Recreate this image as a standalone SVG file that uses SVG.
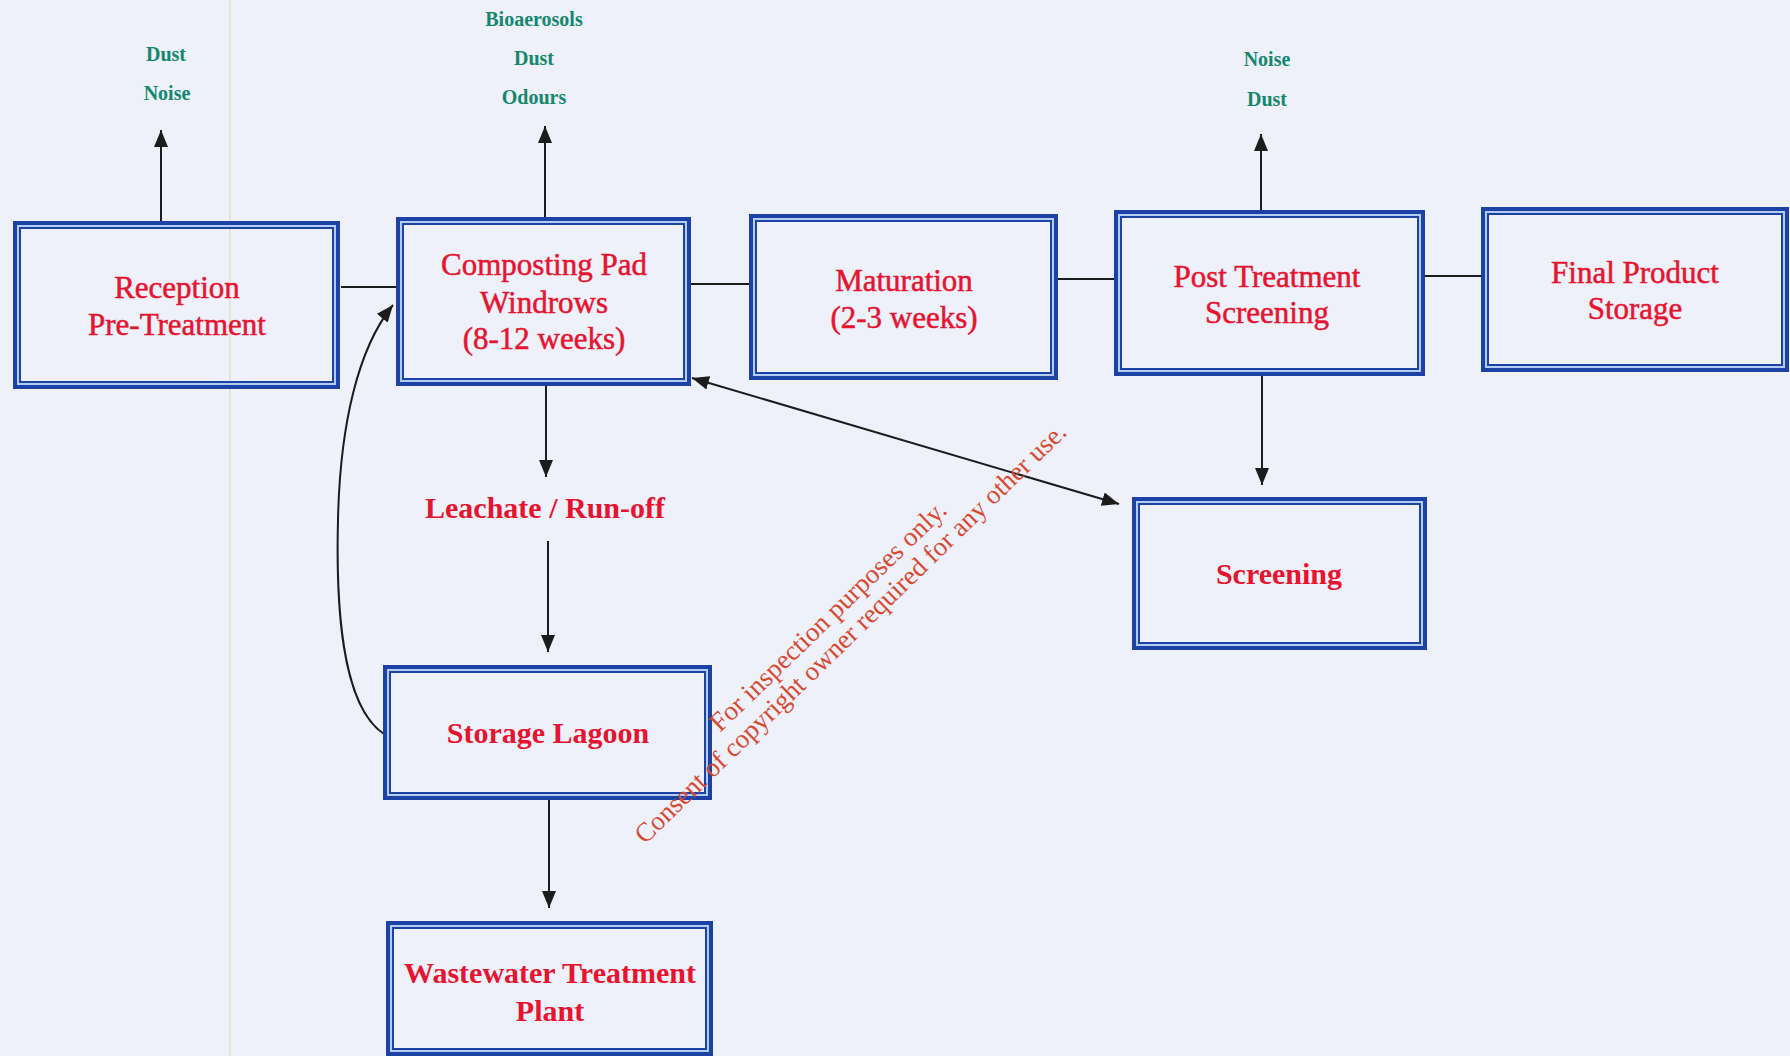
<svg xmlns="http://www.w3.org/2000/svg" width="1790" height="1056" viewBox="0 0 1790 1056">
<defs>
<style>
.bo{fill:none;stroke:#1d42a6;stroke-width:8}
.bi{fill:none;stroke:#b3ccf4;stroke-width:2}
.lbl{font-family:"Liberation Serif","Times New Roman",serif;font-size:31px;fill:#e5142f;stroke:#e5142f;stroke-width:0.5;text-anchor:middle}
.lbb{font-family:"Liberation Serif","Times New Roman",serif;font-size:30px;font-weight:bold;fill:#e5142f;text-anchor:middle}
.em{font-family:"Liberation Serif","Times New Roman",serif;font-size:20px;font-weight:bold;fill:#15876c;text-anchor:middle}
.wm{font-family:"Liberation Serif","Times New Roman",serif;font-size:27px;fill:#d84a30}
.ln{fill:none;stroke:#1c1c1c;stroke-width:2}
</style>
<marker id="ah" markerUnits="userSpaceOnUse" markerWidth="18" markerHeight="14" refX="17" refY="7" orient="auto">
<path d="M0,0 L17,7 L0,14 z" fill="#1c1c1c"/>
</marker>
<marker id="ahs" markerUnits="userSpaceOnUse" markerWidth="18" markerHeight="14" refX="1" refY="7" orient="auto">
<path d="M18,0 L1,7 L18,14 z" fill="#1c1c1c"/>
</marker>
</defs>
<rect x="0" y="0" width="1790" height="1056" fill="#eef0fa"/>
<line x1="230" y1="0" x2="230" y2="1056" stroke="#e7e1c4" stroke-width="1.5"/>

<g id="connectors">
<line class="ln" x1="341" y1="287" x2="396" y2="287"/>
<line class="ln" x1="691" y1="284" x2="749" y2="284"/>
<line class="ln" x1="1058" y1="279" x2="1114" y2="279"/>
<line class="ln" x1="1425" y1="276" x2="1481" y2="276"/>
<line class="ln" x1="161" y1="221" x2="161" y2="130" marker-end="url(#ah)"/>
<line class="ln" x1="545" y1="217" x2="545" y2="126" marker-end="url(#ah)"/>
<line class="ln" x1="1261" y1="210" x2="1261" y2="134" marker-end="url(#ah)"/>
<line class="ln" x1="546" y1="386" x2="546" y2="477" marker-end="url(#ah)"/>
<line class="ln" x1="548" y1="541" x2="548" y2="652" marker-end="url(#ah)"/>
<line class="ln" x1="549" y1="800" x2="549" y2="908" marker-end="url(#ah)"/>
<line class="ln" x1="1262" y1="376" x2="1262" y2="485" marker-end="url(#ah)"/>
<line class="ln" x1="692" y1="378" x2="1119" y2="504" marker-start="url(#ahs)" marker-end="url(#ah)"/>
<path class="ln" d="M384,734 C340,705 336,600 338,520 C340,425 358,348 393,305" marker-end="url(#ah)"/>
</g>

<g id="emissions-reception">
<text class="em" x="166" y="61">Dust</text>
<text class="em" x="167" y="100">Noise</text>
</g>
<g id="emissions-composting">
<text class="em" x="534" y="26">Bioaerosols</text>
<text class="em" x="534" y="65">Dust</text>
<text class="em" x="534" y="104">Odours</text>
</g>
<g id="emissions-post">
<text class="em" x="1267" y="66">Noise</text>
<text class="em" x="1267" y="106">Dust</text>
</g>

<g id="reception">
<rect class="bo" x="17" y="225" width="319" height="160"/>
<rect class="bi" x="18" y="226" width="317" height="158"/>
<text class="lbl" x="177" y="298">Reception</text>
<text class="lbl" x="177" y="335">Pre-Treatment</text>
</g>
<g id="composting">
<rect class="bo" x="400" y="221" width="287" height="161"/>
<rect class="bi" x="401" y="222" width="285" height="159"/>
<text class="lbl" x="544" y="275">Composting Pad</text>
<text class="lbl" x="544" y="313">Windrows</text>
<text class="lbl" x="544" y="349">(8-12 weeks)</text>
</g>
<g id="maturation">
<rect class="bo" x="753" y="218" width="301" height="158"/>
<rect class="bi" x="754" y="219" width="299" height="156"/>
<text class="lbl" x="904" y="291">Maturation</text>
<text class="lbl" x="904" y="328">(2-3 weeks)</text>
</g>
<g id="post-treatment">
<rect class="bo" x="1118" y="214" width="303" height="158"/>
<rect class="bi" x="1119" y="215" width="301" height="156"/>
<text class="lbl" x="1267" y="287">Post Treatment</text>
<text class="lbl" x="1267" y="323">Screening</text>
</g>
<g id="final-storage">
<rect class="bo" x="1485" y="211" width="300" height="157"/>
<rect class="bi" x="1486" y="212" width="298" height="155"/>
<text class="lbl" x="1635" y="283">Final Product</text>
<text class="lbl" x="1635" y="319">Storage</text>
</g>
<g id="screening">
<rect class="bo" x="1136" y="501" width="287" height="145"/>
<rect class="bi" x="1137" y="502" width="285" height="143"/>
<text class="lbb" x="1279" y="584">Screening</text>
</g>
<g id="leachate">
<text class="lbb" x="545" y="518">Leachate / Run-off</text>
</g>
<g id="storage-lagoon">
<rect class="bo" x="387" y="669" width="321" height="127"/>
<rect class="bi" x="388" y="670" width="319" height="125"/>
<text class="lbb" x="548" y="743">Storage Lagoon</text>
</g>
<g id="wastewater">
<rect class="bo" x="390" y="925" width="319" height="127"/>
<rect class="bi" x="391" y="926" width="317" height="125"/>
<text class="lbb" x="550" y="983">Wastewater Treatment</text>
<text class="lbb" x="550" y="1021">Plant</text>
</g>

<g id="watermark">
<text class="wm" x="720" y="733" textLength="318" lengthAdjust="spacingAndGlyphs" transform="rotate(-44.1 720 733)">For inspection purposes only.</text>
<text class="wm" x="645" y="845" textLength="590" lengthAdjust="spacingAndGlyphs" transform="rotate(-44.2 645 845)">Consent of copyright owner required for any other use.</text>
</g>
</svg>
